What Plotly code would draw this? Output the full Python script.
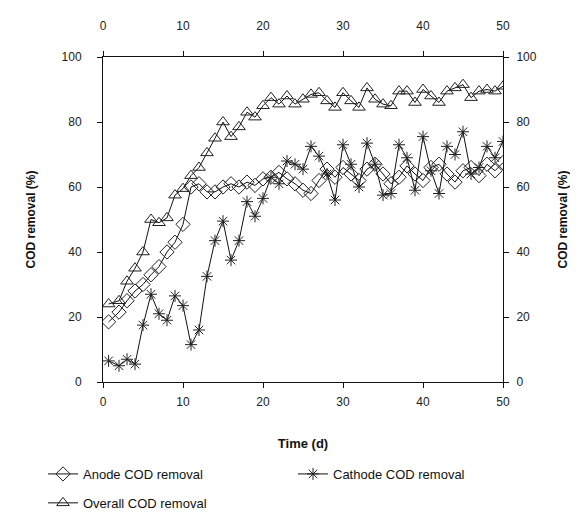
import plotly.graph_objects as go

days = [0.7] + list(range(2, 51))

anode = [18.5, 21.5, 25, 28, 30, 33, 35.5, 40, 43, 48.5,
         60, 61, 58.5, 58.5, 60, 61, 60, 61.5, 60.5, 62.5,
         63, 64.5, 62.5, 61, 59, 58, 62, 65.5, 63, 66,
         64, 62, 65.5, 67, 64, 61, 63, 66.5, 64, 62,
         66, 67, 64, 61.5, 65, 66, 63.5, 67, 65, 67.5]

cathode = [6.5, 5, 7, 5.5, 17.5, 27, 21, 19, 26.5, 23.5,
           11.5, 16, 32.5, 43.5, 49.5, 37.5, 43.5, 55.5, 51, 56.5,
           63, 61, 68, 67, 65.5, 72.5, 69.5, 64, 56, 73,
           67, 60, 73.5, 67, 57.5, 58, 73, 69, 59, 75.5,
           65, 58, 72.5, 70, 77, 64, 66, 72.5, 69, 74]

overall = [24, 25, 31, 35, 40, 50, 49, 50.5, 57.5, 59.5,
           63.5, 66, 70.5, 75, 80, 75.5, 78.5, 83, 81.5, 85,
           87.5, 85.5, 88, 85.5, 87, 88.5, 89, 86.5, 84.5, 89,
           86.5, 84.5, 90.5, 87, 85.5, 85, 89.5, 89.5, 86, 90,
           88, 86, 89.5, 90.5, 91.5, 87.5, 89.5, 90, 89.5, 91]

x_ticks = [0, 10, 20, 30, 40, 50]
y_ticks = [0, 20, 40, 60, 80, 100]

FONT = "Liberation Sans, Arial, sans-serif"
mk = dict(color="rgba(0,0,0,0)", size=11, line=dict(color="#222", width=1))

fig = go.Figure()
fig.add_trace(go.Scatter(x=days, y=anode, mode="lines+markers", name="Anode COD removal",
                         line=dict(color="#111", width=1), legend="legend",
                         marker=dict(symbol="diamond", **mk)))
fig.add_trace(go.Scatter(x=days, y=cathode, mode="lines+markers", name="Cathode COD removal",
                         line=dict(color="#111", width=1), legend="legend2",
                         marker=dict(symbol="asterisk-open", size=10, color="#222",
                                     line=dict(color="#222", width=1))))
fig.add_trace(go.Scatter(x=days, y=overall, mode="lines+markers", name="Overall COD removal",
                         line=dict(color="#111", width=1), legend="legend3",
                         marker=dict(symbol="triangle-up", **mk)))

axcommon = dict(showline=True, linecolor="#111", linewidth=1, ticks="outside",
                ticklen=5, tickcolor="#111", showgrid=False, zeroline=False,
                automargin=False,
                tickfont=dict(family=FONT, size=12, color="#222"))

legfont = dict(family=FONT, size=13, color="#111")
legcommon = dict(orientation="h", xanchor="left", yanchor="middle", itemwidth=30,
                 font=legfont, bgcolor="rgba(0,0,0,0)")
fig.update_layout(
    width=578, height=524,
    margin=dict(l=95, r=83, t=49, b=150),
    paper_bgcolor="white", plot_bgcolor="white",
    font=dict(family=FONT, size=12, color="#111"),
    showlegend=True,
    legend=dict(x=-0.15, y=-0.283, **legcommon),
    legend2=dict(x=0.475, y=-0.283, **legcommon),
    legend3=dict(x=-0.15, y=-0.372, **legcommon),
    xaxis=dict(range=[0, 50], tickvals=x_ticks, ticktext=[str(v) for v in x_ticks],
               title=dict(text="<b>Time (d)</b>", standoff=30,
                          font=dict(family=FONT, size=13)),
               ticklabelstandoff=4, **axcommon),
    xaxis2=dict(range=[0, 50], tickvals=x_ticks, ticktext=[str(v) for v in x_ticks],
                overlaying="x", side="top", anchor="y", ticklabelstandoff=16, **axcommon),
    yaxis=dict(range=[0, 100], tickvals=y_ticks, ticktext=[str(v) for v in y_ticks],
               title=dict(text="<b>COD removal (%)</b>", standoff=23,
                          font=dict(family=FONT, size=12)),
               ticklabelstandoff=13, **axcommon),
    yaxis2=dict(range=[0, 100], tickvals=y_ticks, ticktext=[str(v) for v in y_ticks],
                overlaying="y", side="right", anchor="x",
                title=dict(text="<b>COD removal (%)</b>", standoff=22,
                           font=dict(family=FONT, size=12)),
                ticklabelstandoff=5, **axcommon),
)
# invisible trace to activate secondary axes
fig.add_trace(go.Scatter(x=[None], y=[None], xaxis="x2", yaxis="y2", showlegend=False,
                         hoverinfo="skip"))

fig.write_html("out.html")
